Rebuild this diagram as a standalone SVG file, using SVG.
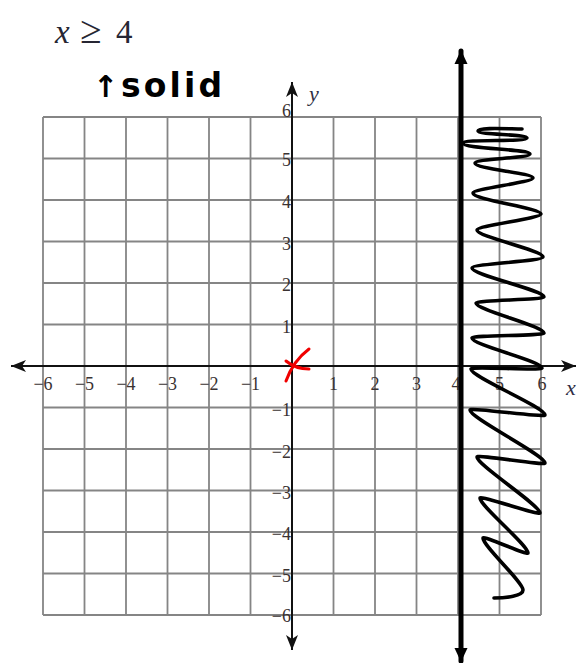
<svg xmlns="http://www.w3.org/2000/svg" width="580" height="663" viewBox="0 0 580 663">
  <style>
    .grid { stroke: #858585; stroke-width: 1.8; fill: none; }
    .axis { stroke: #111; stroke-width: 2; fill: none; }
    .num { font-family: "Liberation Serif", "Times New Roman", serif; font-size: 18px; fill: #3a3232; }
    .numx { text-anchor: middle; }
    .numy { text-anchor: end; }
    .var { font-family: "Liberation Serif", "Times New Roman", serif; font-style: italic; font-size: 22px; fill: #2f2f45; }
    .ink { stroke: #000; fill: none; stroke-linecap: round; stroke-linejoin: round; }
    .red { stroke: #f00000; fill: none; stroke-linecap: round; stroke-linejoin: round; stroke-width: 3; }
  </style>
  <defs>
    <marker id="axarrow" markerUnits="userSpaceOnUse" markerWidth="16" markerHeight="12" refX="15" refY="6" orient="auto-start-reverse" viewBox="0 0 16 12">
      <path d="M0,0 L15,6 L0,12 L4,6 Z" fill="#111"/>
    </marker>
    <marker id="thickarrow" markerUnits="userSpaceOnUse" markerWidth="14" markerHeight="14" refX="13" refY="6.5" orient="auto-start-reverse" viewBox="0 0 14 13">
      <path d="M0,0 L14,6.5 L0,13 Z" fill="#000"/>
    </marker>
  </defs>
  <rect width="580" height="663" fill="#fff"/>

  <g id="title">
    <text x="55" y="43" font-family="Liberation Serif, Times New Roman, serif" font-size="33" fill="#262633"><tspan font-style="italic">x</tspan><tspan x="80" font-size="39">≥</tspan><tspan x="116">4</tspan></text>
  </g>
  <g id="note-solid">
    <text x="93" y="97" font-family="DejaVu Sans, sans-serif" font-weight="bold" font-size="33" fill="#000"><tspan font-size="30">↑</tspan><tspan x="121" textLength="101" lengthAdjust="spacing">solid</tspan></text>
  </g>

  <g id="grid">
    <path class="grid" d="M43,117V615M84.5,117V615M126,117V615M167.5,117V615M209,117V615M250.5,117V615M333.5,117V615M375,117V615M416.5,117V615M458,117V615M499.5,117V615M541,117V615
      M43,117H541M43,158.5H541M43,200H541M43,241.5H541M43,283H541M43,324.5H541M43,407.5H541M43,449H541M43,490.5H541M43,532H541M43,573.5H541M43,615H541"/>
  </g>

  <g id="axes">
    <line class="axis" x1="11" y1="366" x2="576" y2="366" marker-start="url(#axarrow)" marker-end="url(#axarrow)"/>
    <line class="axis" x1="292" y1="82" x2="292" y2="650" marker-start="url(#axarrow)" marker-end="url(#axarrow)"/>
    <text class="var" x="566" y="395">x</text>
    <text class="var" x="309" y="101">y</text>
  </g>

  <g id="x-labels" class="num numx">
    <text x="43" y="390">−6</text>
    <text x="84.5" y="390">−5</text>
    <text x="126" y="390">−4</text>
    <text x="167.5" y="390">−3</text>
    <text x="209" y="390">−2</text>
    <text x="250.5" y="390">−1</text>
    <text x="333.5" y="390">1</text>
    <text x="375" y="390">2</text>
    <text x="416.5" y="390">3</text>
    <text x="456" y="390">4</text>
    <text x="499.5" y="390">5</text>
    <text x="542" y="390">6</text>
  </g>
  <g id="y-labels" class="num numy">
    <text x="291" y="117">6</text>
    <text x="291" y="166">5</text>
    <text x="291" y="207.5">4</text>
    <text x="291" y="249.5">3</text>
    <text x="291" y="291">2</text>
    <text x="291" y="332.5">1</text>
    <text x="291" y="416">−1</text>
    <text x="291" y="457.5">−2</text>
    <text x="291" y="499">−3</text>
    <text x="291" y="540">−4</text>
    <text x="291" y="581.5">−5</text>
    <text x="291" y="622">−6</text>
  </g>

  <g id="origin-mark">
    <path class="red" d="M309,349 C301,355 292,364 286,381"/>
    <path class="red" d="M286,361 C292,366 300,369 309,369" stroke-width="3.5"/>
  </g>

  <g id="boundary-line">
    <line class="ink" x1="461" y1="51" x2="461" y2="661" stroke-width="5" stroke-linecap="butt" marker-start="url(#thickarrow)" marker-end="url(#thickarrow)"/>
  </g>

  <g id="shading">
    <path class="ink" stroke-width="3.6" d="M522,129
      C510,129 478,127 478,131
      C478,135 527,134 527,138
      C527,142 463,139 463,143
      C463,149 530,149 530,154
      C530,158 475,159 475,163
      C475,169 533,173 533,178
      C533,182 473,189 473,193
      C473,200 541,208 541,214
      C541,218 477,226 477,230
      C477,237 543,250 543,257
      C543,261 472,264 472,268
      C472,275 544,290 544,297
      C544,300 476,300 476,303
      C476,310 544,326 544,333
      C544,336 472,335 472,338
      C472,345 542,361 542,368
      C542,371 471,366 471,369
      C471,377 545,407 545,415
      C545,418 470,407 470,410
      C470,418 545,455 545,463
      C545,466 477,454 477,457
      C477,465 540,505 540,513
      C540,516 480,495 480,498
      C480,506 528,545 528,553
      C528,556 483,535 483,538
      C483,546 523,582 523,590
      C523,596 506,598 494,598"/>
  </g>
</svg>
